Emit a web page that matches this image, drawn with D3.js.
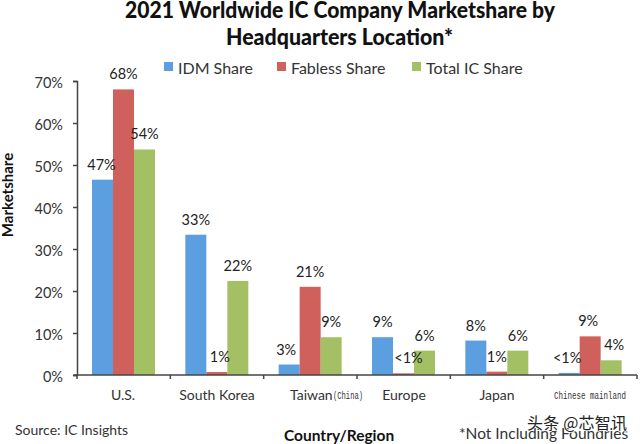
<!DOCTYPE html>
<html>
<head>
<meta charset="utf-8">
<script src="https://cdn.jsdelivr.net/npm/d3@7"></script>
<style>
    html, body { margin: 0; background: #fff; }
    svg text { font-family: Lato, "Open Sans", sans-serif; fill: #333; }
    .title { font-size: 22px; font-weight: 900; }
    svg text.title { fill: #111; }
    svg text.mono { font-family: "Liberation Mono", monospace; font-size: 11px; }
</style>
</head>
<body>
<svg id="mainCanvas" width="640" height="444"></svg>
<script>
    const svg = d3.select("svg#mainCanvas");
    const keys = ["idm", "fabless", "total"];
    const colors = { idm: "#5c9fe0", fabless: "#d0605c", total: "#a3c164" };
    const data = [
        { region: "U.S.", idm: 46.5, fabless: 68, total: 53.7, labels: ["47%", "68%", "54%"] },
        { region: "South Korea", idm: 33.4, fabless: 0.7, total: 22.4, labels: ["33%", "1%", "22%"] },
        { region: "Taiwan", idm: 2.5, fabless: 21, total: 9, labels: ["3%", "21%", "9%"] },
        { region: "Europe", idm: 9, fabless: 0.4, total: 5.8, labels: ["9%", "<1%", "6%"] },
        { region: "Japan", idm: 8.2, fabless: 0.8, total: 5.8, labels: ["8%", "1%", "6%"] },
        { region: "Chinese mainland", idm: 0.5, fabless: 9.2, total: 3.5, labels: ["<1%", "9%", "4%"] }
    ];
    // label nudges where the original sits labels over neighbouring bars
    const nudge = {
        "U.S.": [[-1, 0], [0, 0], [0, 0]],
        "South Korea": [[0, 0], [3, 0], [0, 0]],
        "Taiwan": [[-3, 0], [0, 0], [0, 0]],
        "Europe": [[0, 0], [5, 0], [0, 0]],
        "Japan": [[0, 0], [0, 0], [0, 0]],
        "Chinese mainland": [[-2, 0], [-2, 0], [3, 0]]
    };

    const x = d3.scaleBand().domain(data.map(d => d.region)).range([77, 637]);
    const x1 = d3.scaleBand().domain(keys).range([15, 78]);
    const y = d3.scaleLinear().domain([0, 70]).range([375, 81]);

    // title
    svg.append("text").attr("class", "title").attr("x", 125).attr("y", 18)
        .attr("textLength", 430).attr("lengthAdjust", "spacingAndGlyphs")
        .text("2021 Worldwide IC Company Marketshare by");
    svg.append("text").attr("class", "title").attr("x", 226).attr("y", 45)
        .attr("textLength", 227).attr("lengthAdjust", "spacingAndGlyphs")
        .text("Headquarters Location*");

    // legend
    const legend = [["idm", "IDM Share", 164], ["fabless", "Fabless Share", 277], ["total", "Total IC Share", 412]];
    legend.forEach(function (l) {
        svg.append("rect").attr("x", l[2]).attr("y", 62).attr("width", 9).attr("height", 9).attr("fill", colors[l[0]]);
        svg.append("text").attr("x", l[2] + 14).attr("y", 74).attr("font-size", 16).text(l[1]);
    });

    // bars
    const groups = svg.append("g").selectAll("g").data(data).join("g")
        .attr("transform", d => `translate(${x(d.region)},0)`);
    groups.selectAll("rect")
        .data(d => keys.map(k => ({ key: k, value: d[k] })))
        .join("rect")
        .attr("x", d => x1(d.key))
        .attr("y", d => y(d.value))
        .attr("width", x1.bandwidth())
        .attr("height", d => y(0) - y(d.value))
        .attr("fill", d => colors[d.key]);

    // value labels
    groups.selectAll("text")
        .data(d => keys.map((k, i) => ({ key: k, value: d[k], label: d.labels[i], n: nudge[d.region][i] })))
        .join("text")
        .attr("x", d => x1(d.key) + x1.bandwidth() / 2 + d.n[0])
        .attr("y", d => y(d.value) - 10 + d.n[1])
        .attr("text-anchor", "middle")
        .attr("font-size", 14.5)
        .style("fill", "#222")
        .text(d => d.label);

    // axes
    const yAxis = d3.axisLeft(y).tickValues(d3.range(0, 71, 10)).tickSize(4).tickFormat(d => d + "%");
    const gy = svg.append("g").attr("transform", "translate(77,0)").call(yAxis);
    gy.selectAll("text").attr("font-size", 14.5).attr("x", -14).attr("dy", "0.42em").style("font-family", "Lato");

    const gx = svg.append("g").attr("transform", "translate(0,375)");
    gx.append("line").attr("x1", 74).attr("x2", 637).attr("stroke", "#444").attr("stroke-width", 1.5);
    gx.selectAll("line.tick").data(d3.range(0, 7)).join("line").attr("class", "tick")
        .attr("x1", i => 77 + i * x.bandwidth()).attr("x2", i => 77 + i * x.bandwidth())
        .attr("y1", 0).attr("y2", 4).attr("stroke", "#444").attr("stroke-width", 1.5);
    gy.selectAll("path, line").attr("stroke", "#444").attr("stroke-width", 1.5);

    // category labels
    const labelPos = { "U.S.": 123, "South Korea": 217, "Europe": 404, "Japan": 497 };
    Object.keys(labelPos).forEach(function (k) {
        svg.append("text").attr("x", labelPos[k]).attr("y", 400).attr("text-anchor", "middle")
            .attr("font-size", 14).text(k);
    });
    svg.append("text").attr("x", 290).attr("y", 400).attr("font-size", 14).text("Taiwan");
    svg.append("text").attr("class", "mono").attr("x", 333).attr("y", 399)
        .attr("textLength", 30).attr("lengthAdjust", "spacingAndGlyphs").text("(China)");
    svg.append("text").attr("class", "mono").attr("x", 554).attr("y", 399)
        .attr("textLength", 72).attr("lengthAdjust", "spacingAndGlyphs").text("Chinese mainland");

    // axis titles and notes
    svg.append("text").attr("transform", "translate(13,195) rotate(-90)").attr("text-anchor", "middle")
        .attr("font-size", 15).attr("font-weight", 700).style("fill", "#111").text("Marketshare");
    svg.append("text").attr("x", 15).attr("y", 435).attr("font-size", 14).text("Source: IC Insights");
    svg.append("text").attr("x", 284).attr("y", 441).attr("font-size", 15.5).attr("font-weight", 700).style("fill", "#111").text("Country/Region");
    svg.append("text").attr("x", 459).attr("y", 439).attr("font-size", 15.5).text("*Not Including Foundries");

    // watermark
    svg.append("text").attr("x", 527).attr("y", 429).attr("font-size", 16)
        .attr("textLength", 100).attr("stroke", "#fff").attr("stroke-width", 1.5).attr("paint-order", "stroke")
        .style("font-family", '"Noto Sans CJK SC"').style("fill", "#222").text("头条 @芯智讯");
</script>
</body>
</html>
